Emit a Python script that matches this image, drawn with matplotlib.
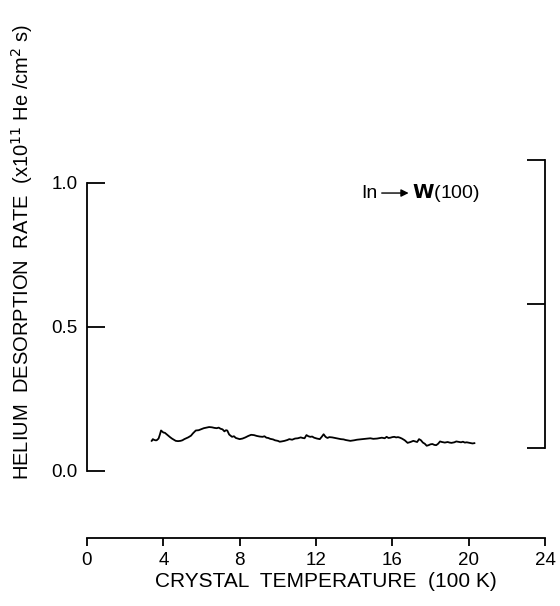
import numpy as np
import matplotlib.pyplot as plt

plt.rcParams['font.family'] = ['Liberation Sans', 'DejaVu Sans']

# crystal temperature (100 K) and He desorption rate (1e11 He/cm^2 s)
temp = [3.39, 3.45, 3.5, 3.58, 3.65, 3.75, 3.82, 3.88, 3.95, 4.0, 4.08, 4.15,
        4.25, 4.35, 4.45, 4.55, 4.65, 4.77, 4.9, 5.0, 5.1, 5.2, 5.3, 5.45, 5.55,
        5.7, 5.85, 6.0, 6.12, 6.27, 6.4, 6.55, 6.68, 6.8, 6.9, 7.0, 7.1, 7.2,
        7.28, 7.35, 7.45, 7.6, 7.7, 7.8, 7.9, 8.0, 8.15, 8.3, 8.45, 8.6, 8.75,
        8.9, 9.05, 9.2, 9.3, 9.4, 9.5, 9.6, 9.75, 9.85, 10.0, 10.1, 10.2, 10.35,
        10.5, 10.6, 10.75, 10.9, 11.05, 11.2, 11.3, 11.4, 11.5, 11.6, 11.7,
        11.8, 11.9, 12.05, 12.2, 12.3, 12.4, 12.5, 12.6, 12.7, 12.85, 13.0,
        13.15, 13.3, 13.45, 13.55, 13.7, 13.8, 14.0, 14.15, 14.3, 14.5, 14.65,
        14.85, 15.0, 15.2, 15.35, 15.45, 15.6, 15.7, 15.8, 15.9, 16.0, 16.1,
        16.2, 16.3, 16.4, 16.5, 16.65, 16.8, 16.95, 17.1, 17.2, 17.3, 17.4,
        17.5, 17.6, 17.7, 17.8, 17.9, 18.0, 18.1, 18.2, 18.3, 18.4, 18.5, 18.6,
        18.75, 18.9, 19.0, 19.1, 19.25, 19.35, 19.5, 19.6, 19.7, 19.8, 19.9,
        20.05, 20.2, 20.3]
rate = [0.104, 0.110, 0.108, 0.106, 0.106, 0.112, 0.126, 0.140, 0.136, 0.133,
        0.132, 0.128, 0.122, 0.117, 0.112, 0.108, 0.104, 0.103, 0.104, 0.106,
        0.110, 0.113, 0.116, 0.122, 0.130, 0.140, 0.141, 0.145, 0.148, 0.150,
        0.152, 0.151, 0.149, 0.148, 0.150, 0.146, 0.144, 0.137, 0.141, 0.140,
        0.126, 0.118, 0.120, 0.114, 0.112, 0.110, 0.112, 0.116, 0.121, 0.125,
        0.124, 0.121, 0.119, 0.118, 0.120, 0.115, 0.114, 0.111, 0.109, 0.106,
        0.104, 0.101, 0.102, 0.104, 0.107, 0.110, 0.108, 0.112, 0.113, 0.116,
        0.114, 0.113, 0.124, 0.120, 0.118, 0.119, 0.115, 0.112, 0.110, 0.118,
        0.127, 0.118, 0.114, 0.117, 0.116, 0.114, 0.112, 0.110, 0.109, 0.107,
        0.105, 0.104, 0.106, 0.108, 0.109, 0.110, 0.111, 0.113, 0.111, 0.112,
        0.114, 0.115, 0.113, 0.118, 0.114, 0.115, 0.117, 0.118, 0.116, 0.117,
        0.115, 0.112, 0.106, 0.097, 0.100, 0.104, 0.102, 0.100, 0.110, 0.106,
        0.098, 0.094, 0.087, 0.089, 0.092, 0.093, 0.090, 0.089, 0.094, 0.102,
        0.100, 0.098, 0.100, 0.098, 0.097, 0.099, 0.102, 0.100, 0.099,
        0.101, 0.098, 0.099, 0.097, 0.095, 0.096]

xticks = [0, 4, 8, 12, 16, 20, 24]
yticks = [0.0, 0.5, 1.0]
ytick_labels = ['0.0', '0.5', '1.0']

fig = plt.figure(figsize=(5.6, 6.06), dpi=100)
ax = fig.add_axes([87 / 560, 68 / 606, 458 / 560, 428 / 606])
ylo, yhi = -0.2335, 1.2535
ax.set_xlim(0, 24)
ax.set_ylim(ylo, yhi)

ax.plot(temp, rate, color='black', lw=1.3)

for s in ['top', 'right']:
    ax.spines[s].set_visible(False)
ax.spines['left'].set_bounds(0, 1)
ax.spines['bottom'].set_bounds(0, 24)
for s in ['left', 'bottom']:
    ax.spines[s].set_linewidth(1.3)

ax.set_xticks(xticks)
ax.set_yticks(yticks)
ax.set_yticklabels(ytick_labels)
ax.tick_params(axis='y', direction='in', length=13, width=1.3, labelsize=13.5, pad=7)
ax.tick_params(axis='x', direction='out', length=6, width=1.3, labelsize=13.5, pad=4)

# right-hand bracket, its own 0..1 scale sitting a little higher
ax2 = ax.twinx()
shift = 0.08
ax2.set_ylim(ylo - shift, yhi - shift)
for s in ['top', 'left', 'bottom']:
    ax2.spines[s].set_visible(False)
ax2.spines['right'].set_bounds(0, 1)
ax2.spines['right'].set_linewidth(1.3)
ax2.set_yticks([0, 0.5, 1])
ax2.set_yticklabels([])
ax2.tick_params(axis='y', direction='in', length=13, width=1.3)

ax.annotate('', xy=(17.0, 0.965), xytext=(15.3, 0.965),
            arrowprops=dict(arrowstyle='-|>', color='black', lw=1.0, mutation_scale=11))
ax.text(15.2, 0.965, 'In', ha='right', va='center', fontsize=14)
ax.text(17.05, 0.965, r'$\mathbf{W}$(100)', ha='left', va='center', fontsize=14)

ax.set_xlabel('CRYSTAL  TEMPERATURE  (100 K)', fontsize=15)
ax.xaxis.set_label_coords(0.522, -0.08)
fig.text(22 / 560, 0.585, 'HELIUM  DESORPTION  RATE  (x10$^{11}$ He /cm$^{2}$ s)',
         rotation=90, ha='center', va='center', fontsize=14.5)

fig.savefig('out.png', dpi=100)
